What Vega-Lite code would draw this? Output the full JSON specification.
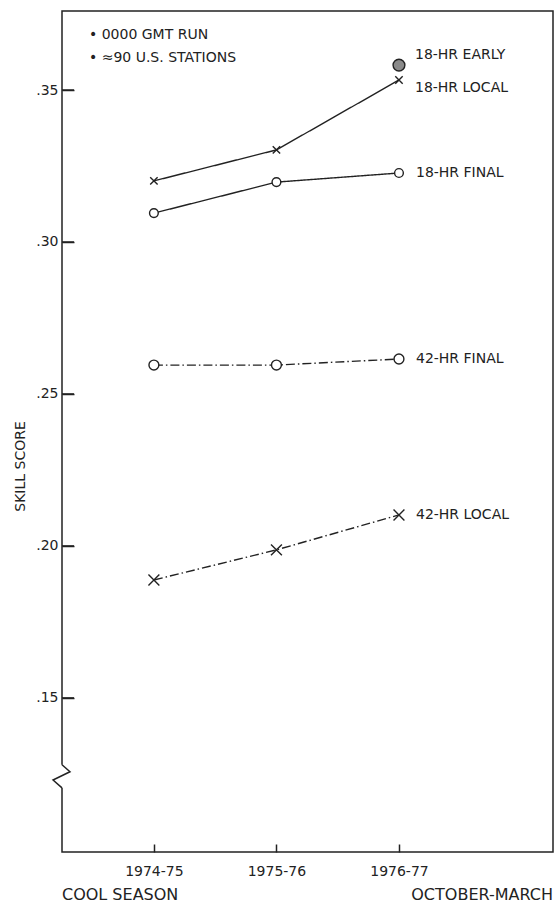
{
  "$schema": "https://vega.github.io/schema/vega-lite/v6.json",
  "width": 491,
  "height": 841,
  "autosize": {"type": "none"},
  "padding": {"left": 62, "top": 11, "right": 2, "bottom": 53},
  "background": "white",
  "config": {
    "view": {"stroke": "#222", "strokeWidth": 1.5},
    "font": "DejaVu Sans",
    "axis": {"domain": false, "grid": false, "ticks": true, "tickColor": "#222", "tickOpacity": 1, "tickWidth": 1.5, "labelColor": "#222", "labelFont": "DejaVu Sans", "labelFontSize": 13, "titleFont": "DejaVu Sans", "titleColor": "#222", "titleFontWeight": "normal", "zindex": 1},
    "text": {"font": "DejaVu Sans", "fontSize": 14, "color": "#222"}
  },
  "datasets": {
    "scores": [
      {"season": "1974-75", "i": 0, "series": "18-HR LOCAL", "skill": 0.3201},
      {"season": "1975-76", "i": 1, "series": "18-HR LOCAL", "skill": 0.3303},
      {"season": "1976-77", "i": 2, "series": "18-HR LOCAL", "skill": 0.3533},
      {"season": "1974-75", "i": 0, "series": "18-HR FINAL", "skill": 0.3095},
      {"season": "1975-76", "i": 1, "series": "18-HR FINAL", "skill": 0.3197},
      {"season": "1976-77", "i": 2, "series": "18-HR FINAL", "skill": 0.3227},
      {"season": "1974-75", "i": 0, "series": "42-HR FINAL", "skill": 0.2595},
      {"season": "1975-76", "i": 1, "series": "42-HR FINAL", "skill": 0.2595},
      {"season": "1976-77", "i": 2, "series": "42-HR FINAL", "skill": 0.2615},
      {"season": "1974-75", "i": 0, "series": "42-HR LOCAL", "skill": 0.1888},
      {"season": "1975-76", "i": 1, "series": "42-HR LOCAL", "skill": 0.1987},
      {"season": "1976-77", "i": 2, "series": "42-HR LOCAL", "skill": 0.2102},
      {"season": "1976-77", "i": 2, "series": "18-HR EARLY", "skill": 0.3582}
    ],
    "axisbreak": [
      {"k": 0, "bx": -0.75, "by": 0.1280},
      {"k": 1, "bx": -0.685, "by": 0.1257},
      {"k": 2, "bx": -0.823, "by": 0.1230},
      {"k": 3, "bx": -0.75, "by": 0.1204}
    ],
    "yticks": [{"t": 0.15}, {"t": 0.2}, {"t": 0.25}, {"t": 0.3}, {"t": 0.35}],
    "one": [{"n": 1}]
  },
  "layer": [
    {
      "data": {"name": "scores"},
      "transform": [{"filter": "datum.series != '18-HR EARLY'"}],
      "mark": {"type": "line", "color": "#222", "strokeWidth": 1.4},
      "encoding": {
        "x": {"field": "i", "type": "quantitative", "scale": {"domain": [-0.75, 3.257], "nice": false, "zero": false},
          "axis": {"values": [0, 1, 2], "labelExpr": "['1974-75','1975-76','1976-77'][datum.value]", "tickSize": -8, "labelPadding": 20, "labelFontSize": 14, "title": null}},
        "y": {"field": "skill", "type": "quantitative", "scale": {"domain": [0.0993, 0.376], "nice": false, "zero": false},
          "axis": {"values": [0.15, 0.2, 0.25, 0.3, 0.35], "labelExpr": "replace(format(datum.value, '.2f'), '0.', '.')", "tickSize": -12, "labelPadding": 16, "labelFontSize": 14, "title": "SKILL SCORE", "titleFontSize": 14, "titleX": -42, "titleY": 455, "titleAngle": -90, "titleAlign": "center", "titleBaseline": "middle"}},
        "detail": {"field": "series"},
        "strokeDash": {"field": "series", "type": "nominal", "legend": null,
          "scale": {"domain": ["18-HR LOCAL", "18-HR FINAL", "42-HR FINAL", "42-HR LOCAL"], "range": [[1, 0], [1, 0], [9, 3, 1.5, 3], [9, 3, 1.5, 3]]}}
      }
    },
    {
      "data": {"name": "yticks"},
      "mark": {"type": "rule", "color": "#222", "strokeWidth": 1.5},
      "encoding": {
        "x": {"datum": -0.75},
        "x2": {"datum": -0.652},
        "y": {"field": "t", "type": "quantitative"}
      }
    },
    {
      "data": {"name": "scores"},
      "mark": {"type": "point", "filled": true, "stroke": "#222", "strokeWidth": 1.4, "opacity": 1},
      "encoding": {
        "x": {"field": "i", "type": "quantitative"},
        "y": {"field": "skill", "type": "quantitative"},
        "shape": {"field": "series", "type": "nominal", "legend": null,
          "scale": {"domain": ["18-HR LOCAL", "18-HR FINAL", "42-HR FINAL", "42-HR LOCAL", "18-HR EARLY"], "range": ["M-1,-1L1,1M-1,1L1,-1", "circle", "circle", "M-1,-1L1,1M-1,1L1,-1", "circle"]}},
        "fill": {"field": "series", "type": "nominal", "legend": null,
          "scale": {"domain": ["18-HR LOCAL", "18-HR FINAL", "42-HR FINAL", "42-HR LOCAL", "18-HR EARLY"], "range": ["white", "white", "white", "white", "#8a8a8a"]}},
        "size": {"field": "series", "type": "nominal", "legend": null,
          "scale": {"domain": ["18-HR LOCAL", "18-HR FINAL", "42-HR FINAL", "42-HR LOCAL", "18-HR EARLY"], "range": [55, 140, 140, 55, 120]}}
      }
    },
    {
      "data": {"name": "scores"},
      "transform": [{"filter": "datum.series == '18-HR EARLY'"}],
      "mark": {"type": "text", "align": "left", "baseline": "middle", "dx": 16, "dy": -10},
      "encoding": {"x": {"field": "i", "type": "quantitative"}, "y": {"field": "skill", "type": "quantitative"}, "text": {"field": "series"}}
    },
    {
      "data": {"name": "scores"},
      "transform": [{"filter": "datum.series == '18-HR LOCAL' && datum.i == 2"}],
      "mark": {"type": "text", "align": "left", "baseline": "middle", "dx": 16, "dy": 8},
      "encoding": {"x": {"field": "i", "type": "quantitative"}, "y": {"field": "skill", "type": "quantitative"}, "text": {"field": "series"}}
    },
    {
      "data": {"name": "scores"},
      "transform": [{"filter": "datum.i == 2 && (datum.series == '18-HR FINAL' || datum.series == '42-HR FINAL' || datum.series == '42-HR LOCAL')"}],
      "mark": {"type": "text", "align": "left", "baseline": "middle", "dx": 17},
      "encoding": {"x": {"field": "i", "type": "quantitative"}, "y": {"field": "skill", "type": "quantitative"}, "text": {"field": "series"}}
    },
    {
      "data": {"name": "one"},
      "mark": {"type": "text", "align": "left", "baseline": "middle", "fontSize": 14, "text": "• 0000 GMT RUN"},
      "encoding": {"x": {"datum": -0.53}, "y": {"datum": 0.3681}}
    },
    {
      "data": {"name": "one"},
      "mark": {"type": "text", "align": "left", "baseline": "middle", "fontSize": 14, "text": "• ≈90 U.S. STATIONS"},
      "encoding": {"x": {"datum": -0.53}, "y": {"datum": 0.3605}}
    },
    {
      "data": {"name": "one"},
      "mark": {"type": "text", "align": "left", "baseline": "middle", "fontSize": 16, "dy": 43, "text": "COOL SEASON", "clip": false},
      "encoding": {"x": {"datum": -0.75}, "y": {"datum": 0.0993}}
    },
    {
      "data": {"name": "one"},
      "mark": {"type": "text", "align": "right", "baseline": "middle", "fontSize": 16, "dy": 43, "text": "OCTOBER-MARCH", "clip": false},
      "encoding": {"x": {"datum": 3.257}, "y": {"datum": 0.0993}}
    },
    {
      "data": {"name": "axisbreak"},
      "transform": [{"filter": "datum.k == 0 || datum.k == 3"}],
      "mark": {"type": "line", "color": "white", "strokeWidth": 4, "clip": false},
      "encoding": {
        "x": {"field": "bx", "type": "quantitative"},
        "y": {"field": "by", "type": "quantitative"},
        "order": {"field": "k"}
      }
    },
    {
      "data": {"name": "axisbreak"},
      "mark": {"type": "line", "color": "#222", "strokeWidth": 1.5, "clip": false},
      "encoding": {
        "x": {"field": "bx", "type": "quantitative"},
        "y": {"field": "by", "type": "quantitative"},
        "order": {"field": "k"}
      }
    }
  ]
}
